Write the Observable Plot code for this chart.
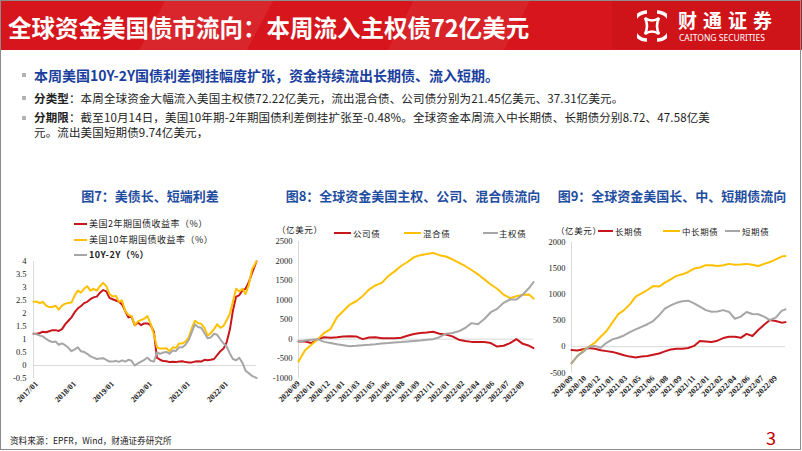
<!DOCTYPE html>
<html><head><meta charset="utf-8">
<script src="https://cdn.jsdelivr.net/npm/d3@7"></script>
<script src="https://cdn.jsdelivr.net/npm/@observablehq/plot@0.6"></script>
<style>
html,body{margin:0;padding:0;background:#fff;}
#slide{position:relative;width:802px;height:451px;overflow:hidden;background:#fff;font-family:"Noto Sans CJK SC","Noto Sans",sans-serif;color:#222;}
.abs{position:absolute;white-space:nowrap;}
#frame{position:absolute;left:0;top:0;width:801px;height:450px;box-sizing:border-box;border:1px solid #8c8c8c;}
#header{left:0;top:0;width:802px;height:50px;
 background:linear-gradient(118deg,rgba(255,255,255,0) 0 20%,rgba(255,255,255,0.07) 20% 33%,rgba(255,255,255,0) 33% 50%,rgba(255,255,255,0.06) 50% 64%,rgba(255,255,255,0) 64%),#d6151c;}
#logoBox{left:612px;top:1px;width:190px;height:48px;background:#cf1419;}
.title{color:#fff;font-weight:700;font-size:23.5px;line-height:30px;}
.bullet{width:4px;height:4px;background:#b3b3b3;}
.l1{font-size:14px;font-weight:700;color:#1b3f9e;line-height:20px;}
.lt{font-size:11.5px;letter-spacing:0.15px;line-height:15px;color:#222;}
.ctitle{font-size:13px;font-weight:700;color:#1f4da0;text-align:center;line-height:18px;}
.leg{font-size:9px;letter-spacing:0.5px;line-height:12px;color:#222;}
.leg8{font-size:8.5px;letter-spacing:0.6px;line-height:12px;color:#222;}
.sw{position:absolute;height:2.2px;}
</style></head>
<body>
<div id="slide">
  <div id="header" class="abs"></div>
  <div id="logoBox" class="abs"></div>
  <div class="abs title" style="left:8px;top:12px;">全球资金美国债市流向：本周流入主权债72亿美元</div>
  <svg class="abs" style="left:637px;top:9px" width="30" height="34" viewBox="0 0 30 34">
    <path d="M10 3 A14 14 0 0 0 10 31" stroke="#fff" stroke-width="3.6" fill="none"/>
    <path d="M20 3 A14 14 0 0 1 20 31" stroke="#fff" stroke-width="3.6" fill="none"/>
    <path d="M8 9 Q15 14 22 9 Q18 17 22 25 Q15 20 8 25 Q12 17 8 9 Z" fill="none" stroke="#fff" stroke-width="2.6"/>
  </svg>
  <div class="abs" style="left:678px;top:8px;font-size:19px;font-weight:700;letter-spacing:6px;color:#fff;line-height:24px;">财通证券</div>
  <div class="abs" style="left:679px;top:32px;font-size:8.5px;color:#fff;line-height:11px;font-family:'Noto Sans',sans-serif;">CAITONG SECURITIES</div>

  <div class="abs bullet" style="left:22px;top:73px;"></div>
  <div class="abs l1" style="left:34px;top:65px;">本周美国10Y-2Y国债利差倒挂幅度扩张，资金持续流出长期债、流入短期。</div>
  <div class="abs bullet" style="left:22px;top:96px;"></div>
  <div class="abs lt" style="left:34px;top:90.5px;"><b>分类型</b>：本周全球资金大幅流入美国主权债72.22亿美元，流出混合债、公司债分别为21.45亿美元、37.31亿美元。</div>
  <div class="abs bullet" style="left:22px;top:116px;"></div>
  <div class="abs lt" style="left:34px;top:110px;"><b>分期限</b>：截至10月14日，美国10年期-2年期国债利差倒挂扩张至-0.48%。全球资金本周流入中长期债、长期债分别8.72、47.58亿美<br>元。流出美国短期债9.74亿美元，</div>

  <div class="abs ctitle" style="left:50px;top:187px;width:200px;">图7：美债长、短端利差</div>
  <div class="abs ctitle" style="left:283px;top:187px;width:260px;">图8：全球资金美国主权、公司、混合债流向</div>
  <div class="abs ctitle" style="left:552px;top:187px;width:240px;">图9：全球资金美国长、中、短期债流向</div>

  <!-- chart 7 legend -->
  <div class="sw" style="left:74px;top:223px;width:13px;background:#c8161d;"></div>
  <div class="abs leg" style="left:89px;top:218px;">美国2年期国债收益率（%）</div>
  <div class="sw" style="left:74px;top:239px;width:13px;background:#ffc000;"></div>
  <div class="abs leg" style="left:89px;top:234px;">美国10年期国债收益率（%）</div>
  <div class="sw" style="left:74px;top:254px;width:13px;background:#a6a6a6;"></div>
  <div class="abs leg" style="left:89px;top:249px;font-weight:700;">10Y-2Y（%）</div>

  <!-- chart 8 legend -->
  <div class="abs leg8" style="left:277px;top:223px;">（亿美元）</div>
  <div class="sw" style="left:334px;top:232px;width:17px;background:#c8161d;"></div>
  <div class="abs leg8" style="left:353px;top:227px;">公司债</div>
  <div class="sw" style="left:404px;top:232px;width:17px;background:#ffc000;"></div>
  <div class="abs leg8" style="left:423px;top:227px;">混合债</div>
  <div class="sw" style="left:483px;top:232px;width:15px;background:#a6a6a6;"></div>
  <div class="abs leg8" style="left:499px;top:227px;">主权债</div>

  <!-- chart 9 legend -->
  <div class="abs leg8" style="left:556px;top:224px;">（亿美元）</div>
  <div class="sw" style="left:598px;top:230px;width:15px;background:#c8161d;"></div>
  <div class="abs leg8" style="left:615px;top:225px;">长期债</div>
  <div class="sw" style="left:663px;top:230px;width:17px;background:#ffc000;"></div>
  <div class="abs leg8" style="left:682px;top:225px;">中长期债</div>
  <div class="sw" style="left:725px;top:230px;width:15px;background:#a6a6a6;"></div>
  <div class="abs leg8" style="left:742px;top:225px;">短期债</div>

  <div class="abs" style="left:10px;top:434px;font-size:8.6px;line-height:13px;color:#222;">资料来源：EPFR，Wind，财通证券研究所</div>
  <div class="abs" style="left:766px;top:426px;font-size:18px;line-height:22px;color:#c00000;">3</div>
  <div id="frame"></div>
</div>
<script>
// ---------- Chart 7: US Treasury yields (monthly, 2016/12 - 2022/10/14) ----------
const yieldStart = "2016-12-01";
const yieldEnd = "2022-10-14";
const y2 = [1.22,
 1.22,1.25,1.30,1.28,1.32,1.36,1.36,1.33,1.40,1.58,1.72,1.85,
 2.05,2.20,2.28,2.40,2.45,2.55,2.62,2.65,2.80,2.90,2.85,2.60,
 2.55,2.50,2.45,2.35,2.10,1.85,1.88,1.55,1.65,1.55,1.62,1.62,
 1.55,1.30,0.30,0.22,0.17,0.16,0.13,0.14,0.13,0.15,0.16,0.13,
 0.12,0.12,0.15,0.16,0.15,0.22,0.20,0.22,0.25,0.40,0.55,0.65,
 0.90,1.40,2.10,2.65,2.70,2.90,2.95,3.20,3.55,4.00];
const y10 = [2.45,
 2.45,2.40,2.45,2.30,2.25,2.25,2.30,2.15,2.30,2.38,2.40,2.42,
 2.70,2.88,2.80,2.95,3.05,2.88,2.95,2.88,3.05,3.18,3.05,2.75,
 2.65,2.68,2.45,2.50,2.10,1.95,1.90,1.55,1.70,1.75,1.80,1.90,
 1.60,1.20,0.70,0.65,0.65,0.66,0.55,0.70,0.68,0.85,0.85,0.92,
 1.08,1.45,1.72,1.63,1.60,1.45,1.15,1.25,1.40,1.58,1.45,1.52,
 1.75,2.00,2.45,2.95,2.85,2.95,2.75,3.10,3.70,4.00];
const spread = [1.22,
 1.20,1.15,1.12,1.02,0.95,0.90,0.92,0.80,0.85,0.78,0.68,0.55,
 0.62,0.70,0.55,0.52,0.45,0.35,0.30,0.25,0.27,0.28,0.22,0.15,
 0.15,0.18,0.14,0.20,0.15,0.22,0.18,0.00,0.08,0.15,0.22,0.30,
 0.18,0.15,0.50,0.45,0.50,0.52,0.45,0.58,0.56,0.70,0.70,0.80,
 0.98,1.30,1.58,1.48,1.45,1.25,1.05,1.08,1.22,1.18,1.00,0.85,
 0.72,0.45,0.25,0.20,0.30,0.10,-0.20,-0.30,-0.40,-0.48];
const yieldTicksY = [-0.5,0,0.5,1,1.5,2,2.5,3,3.5,4];
const yieldTicksX = ["2017-01-01","2018-01-01","2019-01-01","2020-01-01","2021-01-01","2022-01-01"];

// ---------- Charts 8 & 9: cumulative flows (亿美元), every 3 weeks ----------
const flowDates = ["2020-09-02","2020-09-23","2020-10-14","2020-11-04","2020-11-25","2020-12-16",
 "2021-01-06","2021-01-27","2021-02-17","2021-03-10","2021-03-31","2021-04-21","2021-05-12",
 "2021-06-02","2021-06-23","2021-07-14","2021-08-04","2021-08-25","2021-09-15","2021-10-06",
 "2021-10-27","2021-11-17","2021-12-08","2021-12-29","2022-01-19","2022-02-09","2022-03-02",
 "2022-03-23","2022-04-13","2022-05-04","2022-05-25","2022-06-15","2022-07-06","2022-07-27",
 "2022-08-17","2022-09-07","2022-09-28","2022-10-12"];
const flowTicks = ["2020-09-02","2020-10-21","2020-12-09","2021-01-27","2021-03-17","2021-05-05",
 "2021-06-23","2021-08-11","2021-09-29","2021-11-17","2022-01-05","2022-02-23","2022-04-13",
 "2022-06-01","2022-07-20","2022-09-07"];
// Chart 8
const corporate = [-60,-60,-100,0,50,35,50,70,75,70,0,40,50,25,25,25,35,85,130,155,170,190,140,120,70,-15,-45,-70,-70,-75,-100,-190,-170,-100,0,-120,-170,-230];
const mixed = [-575,-290,-146,0,155,258,560,720,885,970,1100,1270,1375,1440,1615,1735,1873,1975,2095,2150,2180,2208,2150,2115,2045,1960,1873,1770,1660,1530,1400,1290,1140,1050,1100,1135,1140,1040];
const sovereign = [-70,-35,-15,0,-70,-100,-130,-155,-180,-170,-155,-145,-130,-110,-100,-85,-75,-60,-45,-35,-15,0,50,140,155,200,285,410,380,515,690,775,930,1015,1015,1140,1315,1460];
const ticks8 = [-1000,-500,0,500,1000,1500,2000,2500];
// Chart 9
const longTerm = [-65,-75,-50,-25,-40,-70,-85,-100,-130,-165,-190,-205,-190,-180,-155,-130,-90,-55,-40,-40,-25,15,110,100,90,115,165,190,190,170,245,205,320,420,510,490,460,470];
const midLong = [-320,-180,-80,0,75,190,300,460,620,700,810,960,1020,1085,1160,1150,1225,1290,1355,1385,1430,1495,1515,1560,1560,1545,1560,1585,1570,1575,1585,1570,1545,1585,1620,1670,1725,1735];
const shortTerm = [-320,-180,-100,0,15,-20,75,140,170,215,280,330,380,430,490,600,730,790,840,870,880,830,765,700,670,675,700,665,535,575,665,625,620,575,510,555,685,715];
const ticks9 = [-500,0,500,1000,1500,2000];

const RED = "#c8161d", YEL = "#ffc000", GRY = "#a6a6a6", AX = "#d9d9d9";
const fmtYM = d3.utcFormat("%Y/%m");

const months = d3.utcMonth.range(new Date(yieldStart), new Date("2022-10-01")).concat([new Date(yieldEnd)]);
const rows = (dates, vals) => dates.map((d, i) => ({date: d instanceof Date ? d : new Date(d), v: vals[i]}));

const slide = document.getElementById("slide");
function place(svg, left, top) {
  svg.style.position = "absolute";
  svg.style.left = left + "px"; svg.style.top = top + "px";
  slide.insertBefore(svg, document.getElementById("frame"));
}

const common = (w, h, m) => ({
  width: w, height: h,
  marginLeft: m[0], marginRight: m[1], marginTop: m[2], marginBottom: m[3],
  style: {background: "transparent", overflow: "visible", fontFamily: "'Liberation Serif', serif", color: "#222"}
});

// Chart 7
const c7 = Plot.plot({
  ...common(262, 170, [33, 6, 11, 42]),
  x: {type: "utc", domain: [months[0], months[months.length - 1]], label: null},
  y: {domain: [-0.5, 4], label: null},
  marks: [
    Plot.ruleY([0], {stroke: AX, strokeWidth: 1}),
    Plot.ruleX([months[0]], {stroke: AX, strokeWidth: 1}),
    Plot.line(rows(months, y2), {x: "date", y: "v", stroke: RED, strokeWidth: 2}),
    Plot.line(rows(months, y10), {x: "date", y: "v", stroke: YEL, strokeWidth: 2}),
    Plot.line(rows(months, spread), {x: "date", y: "v", stroke: GRY, strokeWidth: 2}),
    Plot.axisY(yieldTicksY, {label: null, tickSize: 0, tickPadding: 7, fontSize: 8.5, tickFormat: d => String(d), fill: "#222"}),
    Plot.axisX(yieldTicksX.map(d => new Date(d)), {label: null, tickSize: 0, tickPadding: 4, tickRotate: -45, fontSize: 8, fontWeight: "bold", tickFormat: fmtYM, fill: "#222"})
  ]
});
place(c7, 0, 250);

function flowChart(series, ticks, w, h, m, yDomain) {
  return Plot.plot({
    ...common(w, h, m),
    x: {type: "utc", label: null},
    y: {domain: yDomain, label: null},
    marks: [
      Plot.ruleY([0], {stroke: AX, strokeWidth: 1}),
      Plot.ruleX([new Date(flowDates[0])], {stroke: AX, strokeWidth: 1}),
      ...series.map(([vals, color]) => Plot.line(rows(flowDates, vals), {x: "date", y: "v", stroke: color, strokeWidth: 2})),
      Plot.axisY(ticks, {label: null, tickSize: 0, tickPadding: 6, fontSize: 8.5, tickFormat: d => String(d), fill: "#222"}),
      Plot.axisX(flowTicks.map(d => new Date(d)), {label: null, tickSize: 0, tickPadding: 4, tickRotate: -45, fontSize: 8, fontWeight: "bold", tickFormat: fmtYM, fill: "#222"})
    ]
  });
}
const c8 = flowChart([[corporate, RED], [mixed, YEL], [sovereign, GRY]], ticks8, 275, 200, [36, 4, 16, 47.3], [-1000, 2500]);
place(c8, 262, 225);
const c9 = flowChart([[longTerm, RED], [midLong, YEL], [shortTerm, GRY]], ticks9, 262, 200, [34, 14, 16.7, 52.7], [-500, 2000]);
place(c9, 537, 225);
</script>
</body></html>
